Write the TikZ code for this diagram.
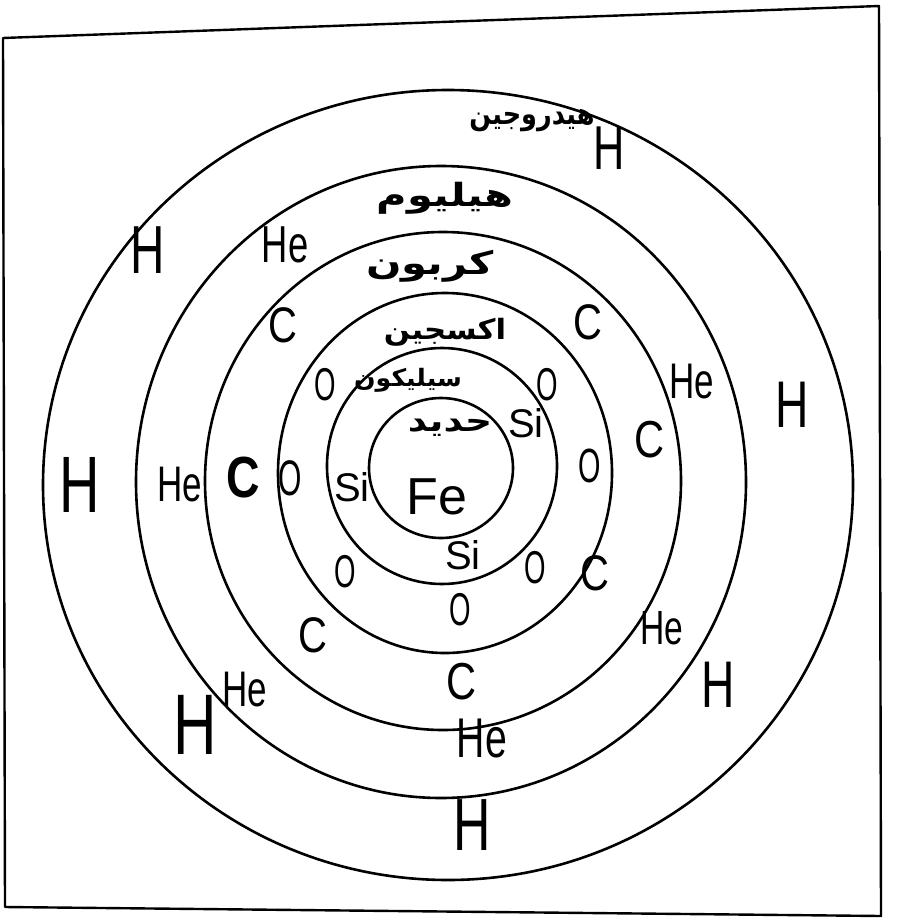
\documentclass[tikz,border=0pt]{standalone}
\usepackage{graphicx}
\usepackage{fontspec}
\setmainfont{Liberation Sans}
\newfontfamily\arabicfont[Script=Arabic]{DejaVu Sans}
\TeXXeTstate=1
\newcommand{\nar}[2][0.7]{\scalebox{#1}[1]{#2}}
\tikzset{
  ring/.style={line width=2.6pt},
  frameline/.style={line width=2.4pt, line join=round},
  elem/.style={font=\fontsize{#1}{#1}\selectfont, inner sep=0pt},
  urdu/.style={font=\arabicfont\bfseries\fontsize{#1}{#1}\selectfont, inner sep=0pt},
}
\begin{document}
\begin{tikzpicture}[x=1pt,y=-1pt]
\useasboundingbox (0,0) rectangle (898,918);
% frame
\draw[frameline] (3,38) -- (879,6) -- (881,916) -- (5,907) -- cycle;
% rings
\draw[ring] (448,485) ellipse [x radius=405, y radius=395];
\draw[ring] (441,482) ellipse [x radius=305, y radius=316];
\draw[ring] (443,481) ellipse [x radius=238, y radius=249];
\draw[ring] (445,473) ellipse [x radius=167, y radius=180];
\draw[ring] (442,466) ellipse [x radius=115, y radius=118];
\draw[ring] (441,468) ellipse [x radius=72, y radius=70];
% ring names
\node[urdu=30] (nH)  at (532,121) {\nar[0.85]{\beginR هيدروجين\endR}};
\node[urdu=32] (nHe) at (445,198) {\nar[1.3]{\beginR هيليوم\endR}};
\node[urdu=32] (nC)  at (430,266) {\nar[1.3]{\beginR كربون\endR}};
\node[urdu=28] (nO)  at (445,332) {\nar[1.1]{\beginR اكسجين\endR}};
\node[urdu=24] (nSi) at (408,380) {\nar[1.05]{\beginR سيليكون\endR}};
\node[urdu=30] (nFe) at (450,428) {\nar[1.25]{\beginR حديد\endR}};
% hydrogen
\node[elem=62] (h1) at (609,148) {\nar{H}};
\node[elem=68] (h2) at (148,250) {\nar{H}};
\node[elem=66] (h3) at (792,405) {\nar{H}};
\node[elem=80] (h4) at (80,485)  {\nar{H}};
\node[elem=66] (h5) at (718,685) {\nar{H}};
\node[elem=86] (h6) at (195,725) {\nar{H}};
\node[elem=74] (h7) at (472,825) {\nar{H}};
% helium
\node[elem=52] (he1) at (285,245) {\nar{He}};
\node[elem=50] (he2) at (692,382) {\nar{He}};
\node[elem=50] (he3) at (180,485) {\nar{He}};
\node[elem=48] (he4) at (662,628) {\nar{He}};
\node[elem=50] (he5) at (245,690) {\nar{He}};
\node[elem=56] (he6) at (482,738) {\nar{He}};
% carbon
\node[elem=50] (c1) at (283,325) {\nar[0.8]{C}};
\node[elem=50] (c2) at (588,322) {\nar[0.8]{C}};
\node[elem=52] (c3) at (650,440) {\nar[0.8]{C}};
\node[elem=58,font=\bfseries\fontsize{58}{58}\selectfont] (c4) at (243,478) {\nar[0.8]{C}};
\node[elem=50] (c5) at (595,573) {\nar[0.8]{C}};
\node[elem=50] (c6) at (313,635) {\nar[0.8]{C}};
\node[elem=52] (c7) at (462,682) {\nar[0.8]{C}};
% oxygen
\node[elem=46] (o1) at (325,385) {\nar[0.6]{O}};
\node[elem=46] (o2) at (547,385) {\nar[0.6]{O}};
\node[elem=50] (o3) at (290,478) {\nar[0.6]{O}};
\node[elem=48] (o4) at (590,466) {\nar[0.6]{O}};
\node[elem=46] (o5) at (345,572) {\nar[0.6]{O}};
\node[elem=46] (o6) at (535,568) {\nar[0.6]{O}};
\node[elem=46] (o7) at (460,610) {\nar[0.6]{O}};
% silicon
\node[elem=40] (s1) at (526,423) {Si};
\node[elem=40] (s2) at (352,487) {Si};
\node[elem=40] (s3) at (463,555) {Si};
% iron
\node[elem=52] (fe) at (437,497) {Fe};
\end{tikzpicture}
\end{document}
